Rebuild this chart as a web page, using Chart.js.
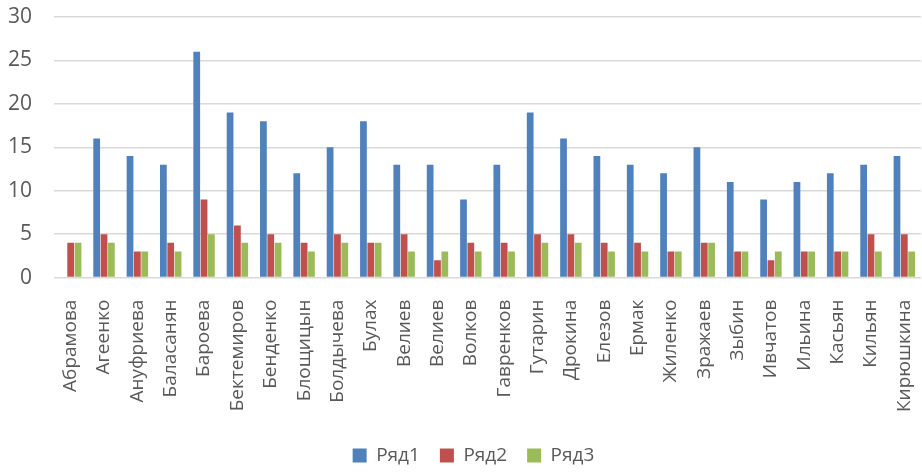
<!DOCTYPE html>
<html>
<head>
<meta charset="utf-8">
<script src="https://cdn.jsdelivr.net/npm/chart.js@4"></script>
<style>
html,body{margin:0;padding:0;background:#fff;}
#wrap{width:922px;height:473px;}
</style>
</head>
<body>
<div id="wrap"><canvas id="c" width="922" height="473"></canvas></div>
<script>
const categories = ["Абрамова","Агеенко","Ануфриева","Баласанян","Бароева","Бектемиров","Бенденко","Блощицын","Болдычева","Булах","Велиев","Велиев","Волков","Гавренков","Гутарин","Дрокина","Елезов","Ермак","Жиленко","Зражаев","Зыбин","Ивчатов","Ильина","Касьян","Кильян","Кирюшкина"];
const series1 = [null,16,14,13,26,19,18,12,15,18,13,13,9,13,19,16,14,13,12,15,11,9,11,12,13,14];
const series2 = [4,5,3,4,9,6,5,4,5,4,5,2,4,4,5,5,4,4,3,4,3,2,3,3,5,5];
const series3 = [4,4,3,3,5,4,4,3,4,4,3,3,3,3,4,4,3,3,3,4,3,3,3,3,3,3];
const seriesNames = ["Ряд1","Ряд2","Ряд3"];
const yTicks = [0,5,10,15,20,25,30];

const FONT = "'Open Sans', sans-serif";
const TXT = "#595959";

const legendShift = {
  id: 'legendShift',
  afterLayout(chart) {
    if (chart.legend) { chart.legend.left += 9; chart.legend.right += 9; }
  }
};

new Chart(document.getElementById('c'), {
  type: 'bar',
  data: {
    labels: categories,
    datasets: [
      {label: seriesNames[0], data: series1, backgroundColor: '#4F81BD'},
      {label: seriesNames[1], data: series2, backgroundColor: '#C0504D'},
      {label: seriesNames[2], data: series3, backgroundColor: '#9BBB59'}
    ]
  },
  plugins: [legendShift],
  options: {
    responsive: false,
    animation: false,
    devicePixelRatio: 1,
    layout: {padding: {left: 8, right: 1, top: 17, bottom: -2}},
    datasets: {bar: {categoryPercentage: 0.66, barPercentage: 0.92}},
    plugins: {
      legend: {
        position: 'bottom',
        labels: {
          font: {family: FONT, size: 19},
          color: TXT,
          boxWidth: 14, boxHeight: 14,
          padding: 20
        }
      },
      tooltip: {enabled: false}
    },
    scales: {
      x: {
        grid: {display: false},
        border: {display: false},
        afterFit: (s) => { s.paddingLeft = 0; s.paddingRight = 0; },
        ticks: {
          font: {family: FONT, size: 19},
          color: TXT,
          minRotation: 90, maxRotation: 90,
          autoSkip: false,
          padding: 14
        }
      },
      y: {
        min: 0, max: 30,
        afterBuildTicks: (axis) => { axis.ticks = yTicks.map(v => ({value: v})); },
        afterFit: (s) => { s.paddingTop = 0; s.paddingBottom = 0; s.width = 46; },
        grid: {color: '#D9D9D9', lineWidth: 1.5, drawTicks: false},
        border: {display: false},
        ticks: {
          font: {family: FONT, size: 21},
          color: TXT,
          padding: 22
        }
      }
    }
  }
});
</script>
</body>
</html>
